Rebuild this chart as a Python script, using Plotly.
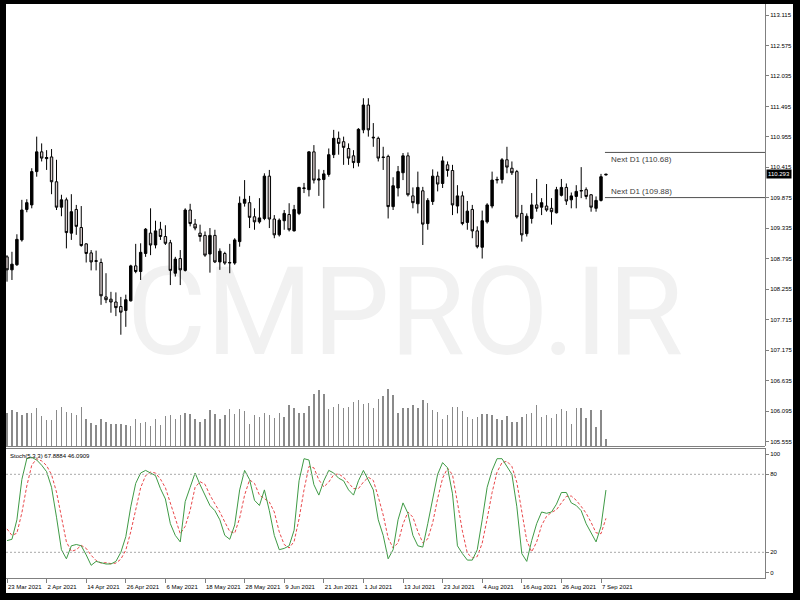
import plotly.graph_objects as go

# ---------------- data ----------------
date_labels = ["23 Mar 2021", "2 Apr 2021", "14 Apr 2021", "26 Apr 2021", "6 May 2021",
               "18 May 2021", "28 May 2021", "9 Jun 2021", "21 Jun 2021", "1 Jul 2021",
               "13 Jul 2021", "23 Jul 2021", "4 Aug 2021", "16 Aug 2021", "26 Aug 2021",
               "7 Sep 2021"]
date_label_bars = [0, 8, 16, 24, 32, 40, 48, 56, 64, 72, 80, 88, 96, 104, 112, 120]

price_ticks = [105.555, 106.095, 106.635, 107.175, 107.715, 108.255, 108.795, 109.335,
               109.875, 110.415, 110.955, 111.495, 112.035, 112.575, 113.115]

open_ = [108.83, 108.60, 108.69, 109.13, 109.67, 109.75, 110.34, 110.69, 110.57, 110.60,
         110.16, 109.71, 109.84, 109.25, 109.67, 109.35, 109.06, 108.90, 108.75, 108.73,
         108.12, 108.08, 108.03, 107.95, 107.88, 108.05, 108.67, 108.57, 108.89, 109.25,
         109.04, 109.32, 109.19, 109.08, 108.54, 108.80, 108.59, 109.66, 109.41, 109.25,
         109.21, 108.88, 109.21, 108.74, 108.89, 108.72, 108.72, 109.10, 109.78, 109.79,
         109.54, 109.45, 109.51, 110.26, 109.50, 109.22, 109.47, 109.58, 109.29, 109.60,
         110.04, 110.02, 110.69, 110.19, 110.20, 110.29, 110.64, 110.93, 110.87, 110.75,
         110.62, 110.50, 111.08, 111.52, 110.95, 110.93, 110.60, 110.61, 109.72, 110.05,
         110.32, 110.62, 109.91, 109.77, 110.00, 109.42, 109.81, 110.26, 110.13, 110.46,
         110.36, 109.73, 109.91, 109.44, 109.67, 109.29, 109.00, 109.45, 109.73, 110.19,
         110.20, 110.55, 110.40, 110.34, 109.60, 109.24, 109.51, 109.75, 109.71, 109.73,
         109.69, 109.61, 109.92, 110.06, 109.84, 109.90, 109.995, 110.02, 109.93, 109.69,
         109.83, 110.28]
high = [108.86, 108.92, 109.23, 109.84, 109.85, 110.40, 110.96, 110.84, 110.72, 110.74,
        110.55, 109.93, 109.88, 109.94, 109.75, 109.73, 109.07, 108.95, 108.94, 108.80,
        108.54, 108.21, 108.20, 108.12, 108.16, 108.69, 109.06, 109.07, 109.34, 109.69,
        109.47, 109.45, 109.39, 109.13, 108.83, 108.95, 109.69, 109.77, 109.50, 109.40,
        109.28, 109.34, 109.31, 108.98, 108.92, 109.06, 109.16, 109.90, 110.19, 109.91,
        109.69, 109.87, 110.31, 110.37, 109.57, 109.51, 109.66, 109.78, 109.75, 110.07,
        110.14, 110.70, 110.81, 110.38, 110.37, 110.75, 111.08, 111.05, 110.96, 110.84,
        110.72, 111.11, 111.64, 111.64, 111.20, 110.96, 110.78, 110.64, 110.24, 110.44,
        110.67, 110.68, 110.06, 110.34, 110.07, 109.87, 110.38, 110.34, 110.61, 110.52,
        110.46, 110.10, 109.99, 109.82, 109.75, 109.37, 109.65, 109.78, 110.34, 110.25,
        110.58, 110.78, 110.52, 110.37, 109.75, 109.60, 109.96, 110.21, 109.87, 110.12,
        109.87, 110.07, 110.21, 110.13, 109.97, 110.10, 110.42, 110.06, 109.94, 109.90,
        110.30, 110.30]
low = [108.39, 108.42, 108.67, 109.10, 109.62, 109.69, 110.25, 110.52, 110.37, 109.94,
       109.66, 109.55, 108.98, 109.13, 109.22, 109.01, 108.73, 108.59, 108.59, 107.98,
       108.01, 107.84, 107.78, 107.45, 107.59, 108.04, 108.54, 108.42, 108.83, 108.86,
       108.98, 109.13, 109.04, 108.33, 108.48, 108.33, 108.57, 109.37, 109.30, 109.10,
       108.83, 108.55, 108.72, 108.60, 108.69, 108.54, 108.69, 109.01, 109.72, 109.34,
       109.31, 109.42, 109.48, 109.34, 109.16, 109.19, 109.31, 109.28, 109.28, 109.57,
       109.96, 109.90, 110.13, 109.91, 109.69, 110.25, 110.58, 110.64, 110.46, 110.46,
       110.40, 110.43, 111.02, 110.96, 110.78, 110.52, 110.37, 109.51, 109.66, 109.90,
       110.19, 109.90, 109.69, 109.60, 109.04, 109.31, 109.75, 109.99, 110.05, 110.25,
       109.57, 109.60, 109.39, 109.31, 109.16, 108.98, 108.80, 109.42, 109.69, 110.13,
       110.13, 110.31, 110.28, 109.51, 109.10, 109.19, 109.42, 109.63, 109.57, 109.63,
       109.40, 109.60, 109.90, 109.75, 109.69, 109.69, 109.87, 109.85, 109.63, 109.63,
       109.81, 110.275]
close = [108.60, 108.70, 109.14, 109.66, 109.79, 110.34, 110.69, 110.58, 110.59, 110.16,
         109.71, 109.84, 109.26, 109.63, 109.37, 109.03, 108.89, 108.74, 108.76, 108.14,
         108.07, 108.03, 107.93, 107.85, 108.07, 108.67, 108.57, 108.91, 109.32, 109.04,
         109.29, 109.19, 109.07, 108.59, 108.79, 108.60, 109.66, 109.42, 109.34, 109.19,
         108.86, 109.21, 108.74, 108.93, 108.72, 108.73, 109.13, 109.78, 109.85, 109.53,
         109.45, 109.52, 110.26, 109.50, 109.22, 109.48, 109.60, 109.31, 109.67, 110.06,
         110.05, 110.69, 110.19, 110.21, 110.30, 110.64, 110.93, 110.84, 110.77, 110.58,
         110.50, 111.09, 111.52, 111.08, 110.94, 110.58, 110.59, 109.72, 110.09, 110.34,
         110.62, 109.93, 109.79, 110.06, 109.41, 109.83, 110.26, 110.12, 110.53, 110.36,
         109.75, 109.91, 109.42, 109.64, 109.29, 109.01, 109.47, 109.75, 110.19, 110.20,
         110.55, 110.42, 110.32, 109.54, 109.22, 109.55, 109.75, 109.69, 109.79, 109.66,
         109.63, 110.02, 110.06, 109.82, 109.91, 109.99, 110.005, 109.90, 109.71, 109.83,
         110.25, 110.293]
volume = [33300, 35700, 34000, 31000, 32700, 32700, 38300, 30000, 25700, 25700,
          35700, 39300, 34000, 33300, 31000, 39300, 26700, 22700, 21000, 26700,
          24300, 21700, 22300, 22300, 20700, 20000, 27300, 22700, 24300, 20000,
          27300, 21000, 30000, 31000, 26700, 31000, 32700, 32300, 26700, 24000,
          26700, 35700, 32300, 26700, 31000, 36700, 32300, 36700, 35000, 22300,
          31000, 29300, 32700, 31000, 28300, 32700, 29000, 41000, 38300, 32700,
          32700, 40000, 51700, 55700, 52300, 36700, 39300, 42300, 38300, 39300,
          44000, 45700, 42300, 42700, 38300, 46700, 50000, 56700, 51000, 33300,
          38300, 38300, 41000, 38300, 45700, 43300, 35700, 34000, 27300, 31000,
          39300, 39000, 35000, 29000, 27300, 29000, 31700, 31700, 30700, 26700,
          25700, 30000, 24300, 24300, 29000, 32300, 32700, 41000, 29000, 30700,
          28300, 31700, 37300, 35000, 21700, 37700, 37700, 28300, 35700, 19000,
          35700, 6700]
stoch_k = [29, 30, 45, 76, 92, 93, 91, 87, 82, 70,
           47, 22, 15, 25, 26, 25, 18, 10, 13, 12,
           11, 11, 13, 20, 32, 55, 73, 81, 83, 81,
           79, 69, 61, 42, 33, 28, 59, 70, 81, 72,
           64, 56, 52, 45, 33, 30, 41, 68, 83, 76,
           60, 56, 68, 52, 33, 22, 23, 25, 37, 75,
           92, 91, 72, 64, 75, 83, 81, 77, 75, 68,
           64, 75, 83, 75, 68, 45, 33, 15, 22, 45,
           58, 50, 33, 25, 24, 42, 62, 80, 89, 85,
           65, 25, 19, 14, 14, 22, 45, 70, 83, 92,
           92, 86, 80, 55, 19, 13, 29, 42, 51, 50,
           51, 57, 66, 66, 58, 56, 52, 42, 35, 28,
           40, 67.8884]
stoch_d = [38, 33, 34.7, 50.3, 71, 87, 92, 90.3, 86.7, 79.7,
           66.3, 46.3, 28, 20.7, 22, 25.3, 23, 17.7, 13.7, 11.7,
           12, 11.3, 11.7, 14.7, 21.7, 35.7, 53.3, 69.7, 79, 81.7,
           81, 76.3, 69.7, 57.3, 45.3, 34.3, 40, 52.3, 70, 74.3,
           72.3, 64, 57.3, 51, 43.3, 36, 34.7, 46.3, 64, 75.7,
           73, 64, 61.3, 58.7, 51, 35.7, 26, 23.3, 28.3, 45.7,
           68, 86, 85, 75.7, 70.3, 74, 79.7, 80.3, 77.7, 73.3,
           69, 69, 74, 77.7, 75.3, 62.7, 48.7, 31, 23.3, 27.3,
           41.7, 51, 47, 36, 27.3, 30.3, 42.7, 61.3, 77, 84.7,
           79.7, 58.3, 36.3, 19.3, 15.7, 16.7, 27, 45.7, 66, 81.7,
           89, 90, 86, 73.7, 51.3, 29, 20.3, 28, 40.7, 47.7,
           50.7, 52.7, 58, 63, 63.3, 60, 55.3, 50, 43, 35,
           34.3, 46.0909]
stoch_levels = [80, 20]
next_d1 = [110.68, 109.88]
watermark = "CMPRO.IR"

bars = list(range(len(open_)))

# ---------------- layout helpers (pixels -> paper) ----------------
W, H = 800, 600
def px(x):
    return x / W
def py(y):
    return 1 - y / H

X_LEFT, X_RIGHT = 6, 765
BAR0_PX, BAR_STEP = 7.0, 4.95
x_range = [(X_LEFT - BAR0_PX) / BAR_STEP, (X_RIGHT - BAR0_PX) / BAR_STEP]

MAIN_TOP, MAIN_BOT = 4, 446
STO_TOP, STO_BOT = 448.3, 578.3
PX_PER_PRICE = 56.44
def price_at(y):
    return 113.115 - (y - 15) / PX_PER_PRICE
main_range = [price_at(MAIN_BOT), price_at(MAIN_TOP)]

FONT = "Liberation Sans, Arial, sans-serif"
GRAY = "#808080"

fig = go.Figure()

fig.add_trace(go.Bar(
    x=bars, y=volume, yaxis="y3", width=0.3,
    marker=dict(color="#8a8a8a", line=dict(width=0)),
    hoverinfo="skip", showlegend=False))

fig.add_trace(go.Candlestick(
    x=bars, open=open_, high=high, low=low, close=close,
    increasing=dict(line=dict(color="#000000", width=1), fillcolor="#000000"),
    decreasing=dict(line=dict(color="#000000", width=1), fillcolor="#dacfcf"),
    whiskerwidth=0, showlegend=False, hoverinfo="skip"))

fig.add_trace(go.Scatter(
    x=bars, y=stoch_d, yaxis="y2", mode="lines",
    line=dict(color="#e8474a", width=1, dash="3px,2px"),
    showlegend=False, hoverinfo="skip"))
fig.add_trace(go.Scatter(
    x=bars, y=stoch_k, yaxis="y2", mode="lines",
    line=dict(color="#3f9a45", width=1),
    showlegend=False, hoverinfo="skip"))

shapes = []
for lv in stoch_levels:
    shapes.append(dict(type="line", xref="paper", yref="y2",
                       x0=px(X_LEFT), x1=px(X_RIGHT), y0=lv, y1=lv,
                       line=dict(color="#a8a8a8", width=1, dash="2px,2px")))
for lv in next_d1:
    shapes.append(dict(type="line", xref="x", yref="y",
                       x0=bars[-1] - 0.2, x1=x_range[1], y0=lv, y1=lv,
                       line=dict(color="#505050", width=1)))
for yy in (446.5, 448.5):
    shapes.append(dict(type="line", xref="paper", yref="paper",
                       x0=px(X_LEFT), x1=px(X_RIGHT), y0=py(yy), y1=py(yy),
                       line=dict(color=GRAY, width=1)))
shapes.append(dict(type="rect", xref="paper", yref="paper", layer="below",
                   x0=px(130), x1=px(680), y0=py(378), y1=py(228),
                   line=dict(width=0), fillcolor="rgba(0,0,0,0)",
                   label=dict(text=watermark, textposition="middle center",
                              font=dict(family="Roboto, Liberation Sans, sans-serif",
                                        size=122, color="#f1f1f1"))))
for (x0, y0, x1, y1) in [(0, 0, 6, 600), (0, 0, 800, 4), (793, 0, 800, 600), (0, 593, 800, 600)]:
    shapes.append(dict(type="rect", xref="paper", yref="paper",
                       x0=px(x0), x1=px(x1), y0=py(y1), y1=py(y0),
                       line=dict(width=0), fillcolor="#000000", layer="above"))

annotations = []
annotations.append(dict(xref="paper", yref="paper", x=px(8), y=py(455.5),
                        xanchor="left", yanchor="middle", showarrow=False,
                        text="Stoch(5,3,3) %.4f %.4f" % (stoch_k[-1], stoch_d[-1]),
                        font=dict(family=FONT, size=6, color="#000000")))
for lv, ypx in zip(next_d1, (160, 191.5)):
    annotations.append(dict(xref="paper", yref="paper", x=px(609), y=py(ypx),
                            xanchor="left", yanchor="middle", showarrow=False,
                            text="Next D1 (%.2f)" % lv,
                            font=dict(family=FONT, size=8, color="#404040")))
annotations.append(dict(xref="paper", yref="y", x=px(766), y=close[-1],
                        xanchor="left", yanchor="middle", showarrow=False,
                        text="%.3f" % close[-1], bgcolor="#000000", borderpad=1,
                        font=dict(family=FONT, size=6, color="#ffffff")))

fig.update_layout(
    width=W, height=H, margin=dict(l=0, r=0, t=0, b=0, autoexpand=False),
    paper_bgcolor="#ffffff", plot_bgcolor="rgba(0,0,0,0)",
    showlegend=False, hovermode=False, bargap=0,
    xaxis=dict(domain=[px(X_LEFT), px(X_RIGHT)], range=x_range, anchor="y2",
               rangeslider=dict(visible=False), showgrid=False, zeroline=False,
               showline=True, linecolor=GRAY, linewidth=1, automargin=False,
               ticks="outside", ticklen=4, tickcolor=GRAY, tickangle=0,
               ticklabelstandoff=2,
               tickvals=date_label_bars, ticktext=date_labels,
               ticklabelposition="outside right",
               tickfont=dict(family=FONT, size=6, color="#000000")),
    yaxis=dict(domain=[py(MAIN_BOT), py(MAIN_TOP)], range=main_range, side="right",
               anchor="x", showgrid=False, zeroline=False, automargin=False,
               showline=True, linecolor=GRAY, linewidth=1,
               ticks="outside", ticklen=3, tickcolor=GRAY,
               tickvals=price_ticks, ticktext=["%.3f" % v for v in price_ticks],
               tickfont=dict(family=FONT, size=6, color="#000000")),
    yaxis2=dict(domain=[py(STO_BOT), py(STO_TOP)], range=[0, 100], side="right",
                anchor="x", showgrid=False, zeroline=False, automargin=False,
                showline=True, linecolor=GRAY, linewidth=1,
                ticks="outside", ticklen=3, tickcolor=GRAY,
                tickvals=[95.5, 80, 20, 4.5], ticktext=["100", "80", "20", "0"],
                tickfont=dict(family=FONT, size=6, color="#000000")),
    yaxis3=dict(overlaying="y", range=[0, 442000], visible=False, showgrid=False,
                automargin=False),
    shapes=shapes, annotations=annotations,
)

fig.write_html("out.html",
               config={"displayModeBar": False, "staticPlot": True},
               post_script="document.body.style.margin='0px';"
                           "document.body.style.overflow='hidden';")
